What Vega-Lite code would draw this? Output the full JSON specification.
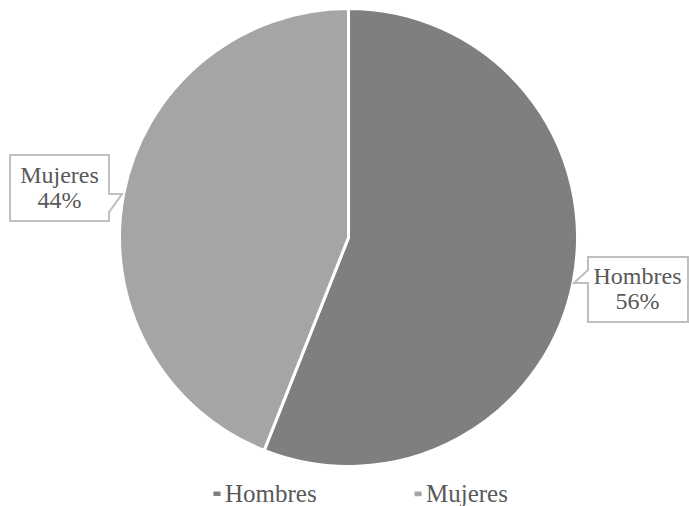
{
  "$schema": "https://vega.github.io/schema/vega-lite/v6.json",
  "width": 457,
  "height": 457,
  "autosize": {"type": "none"},
  "padding": {"left": 120, "top": 9, "right": 112, "bottom": 40},
  "background": "white",
  "config": {"view": {"stroke": null}, "font": "Liberation Serif"},
  "data": {
    "values": [
      {"sexo": "Hombres", "share": 0.56},
      {"sexo": "Mujeres", "share": 0.44}
    ]
  },
  "layer": [
    {
      "mark": {"type": "arc", "outerRadius": 229, "stroke": "white", "strokeWidth": 3},
      "encoding": {
        "theta": {"field": "share", "type": "quantitative", "stack": true},
        "color": {
          "field": "sexo",
          "type": "nominal",
          "scale": {"domain": ["Hombres", "Mujeres"], "range": ["#7f7f7f", "#a5a5a5"]},
          "legend": {
            "title": null,
            "orient": "none",
            "legendX": 84.5,
            "legendY": 472,
            "direction": "horizontal",
            "symbolType": "square",
            "symbolSize": 49,
            "symbolStrokeWidth": 0,
            "labelFont": "Liberation Serif",
            "labelFontSize": 25,
            "labelColor": "#595959",
            "labelOffset": -4.5,
            "columnPadding": 88,
            "padding": 0
          }
        }
      }
    },
    {
      "transform": [
        {"stack": "share", "groupby": [], "sort": [{"field": "sexo", "order": "ascending"}], "as": ["s0", "s1"]},
        {"calculate": "PI * (datum.s0 + datum.s1) - 0.015", "as": "mid"},
        {"calculate": "1.284 * sin(datum.mid)", "as": "lx"},
        {"calculate": "1.284 * cos(datum.mid)", "as": "ly"},
        {"calculate": "[datum.sexo, format(datum.share, '.0%')]", "as": "label"}
      ],
      "encoding": {
        "x": {"field": "lx", "type": "quantitative", "scale": {"domain": [-1, 1], "nice": false, "zero": false}, "axis": null},
        "y": {"field": "ly", "type": "quantitative", "scale": {"domain": [-1, 1], "nice": false, "zero": false}, "axis": null}
      },
      "layer": [
        {
          "mark": {"type": "point", "filled": true, "fill": "white", "stroke": "#bfbfbf", "strokeWidth": 2, "size": 10000, "opacity": 1},
          "encoding": {
            "shape": {
              "field": "sexo",
              "type": "nominal",
              "scale": {
                "domain": ["Hombres", "Mujeres"],
                "range": [
                  "M-0.99,-0.624L1.01,-0.624L1.01,0.676L-0.99,0.676L-0.99,-0.104L-1.27,-0.104L-0.99,-0.364Z",
                  "M-0.99,-0.636L0.99,-0.636L0.99,0.144L1.25,0.144L0.99,0.504L0.99,0.684L-0.99,0.684Z"
                ]
              },
              "legend": null
            }
          }
        },
        {
          "mark": {"type": "text", "align": "center", "baseline": "middle", "dy": -11, "font": "Liberation Serif", "fontSize": 24, "lineHeight": 25, "fill": "#595959"},
          "encoding": {
            "text": {"field": "label", "type": "nominal"}
          }
        }
      ]
    }
  ]
}
